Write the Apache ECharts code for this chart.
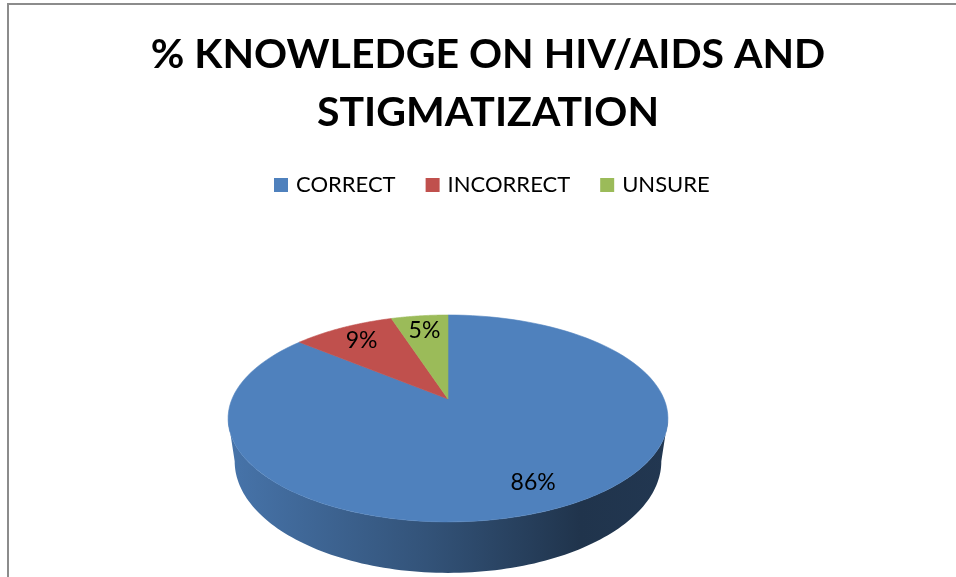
<!DOCTYPE html>
<html>
<head>
<meta charset="utf-8">
<title>% KNOWLEDGE ON HIV/AIDS AND STIGMATIZATION</title>
<script src="https://cdn.jsdelivr.net/npm/echarts@6/dist/echarts.min.js"></script>
<style>
  html, body { margin: 0; padding: 0; background: #fff; overflow: hidden; }
  #frame { position: absolute; left: 7px; top: 3px; width: 970px; height: 590px;
           border-left: 2px solid #8c8c8c; border-top: 2px solid #8c8c8c; }
  #chart { position: absolute; left: 0; top: 0; width: 956px; height: 577px; }
</style>
</head>
<body>
<div id="frame"></div>
<div id="chart"></div>
<script>
// Survey answers and their share (%)
const categories = ['CORRECT', 'INCORRECT', 'UNSURE'];
const percentages = [86, 9, 5];
const palette = ['#4f81bd', '#c0504d', '#9bbb59'];

// Tilted-disc geometry: centre of the top face, radii, perspective and wall depth
const CX = 448, CY = 399, RX = 216, RY = 99.8;
const PERSP = 0.188, DEPTH = 41.4, BASE_SCALE = 0.97;
const STEPS = 120;

const total = percentages.reduce((a, b) => a + b, 0);
const startAngles = [];
percentages.reduce((acc, v, i) => { startAngles[i] = acc; return acc + 2 * Math.PI * v / total; }, 0);

// Angle t runs clockwise from 12 o'clock; f is the fraction of the radius
function project(f, t) {
  const w = 1 + PERSP * f * Math.cos(t);
  return [CX + RX * f * Math.sin(t) / w, CY - RY * f * Math.cos(t) / w];
}
function projectBase(t) {
  const p = project(1, t);
  const w = 1 + PERSP * Math.cos(t);
  return [CX + BASE_SCALE * (p[0] - CX), p[1] + DEPTH / w];
}

// Scale the RGB channels of a colour to shade the wall
function shade(color, k) {
  const c = echarts.color.parse(color);
  return 'rgb(' + Math.round(c[0] * k) + ',' + Math.round(c[1] * k) + ',' + Math.round(c[2] * k) + ')';
}

function renderSlice(i) {
  return function (params, api) {
    const value = api.value(0);
    const color = api.visual('color');
    const t0 = startAngles[i];
    const t1 = t0 + 2 * Math.PI * value / total;
    const children = [];

    // outer wall, only where it faces the viewer
    const ts = Math.acos(-PERSP), te = 2 * Math.PI - ts;
    const a = Math.max(t0, ts), b = Math.min(t1, te);
    if (b > a) {
      const topArc = [], baseArc = [];
      for (let k = 0; k <= STEPS; k++) {
        const t = a + (b - a) * k / STEPS;
        topArc.push(project(1, t));
        baseArc.push(projectBase(t));
      }
      children.push({
        type: 'polygon',
        shape: { points: topArc.concat(baseArc.reverse()) },
        style: {
          fill: {
            type: 'linear', x: 0, y: 0, x2: 1, y2: 0,
            colorStops: [
              { offset: 0, color: shade(color, 0.9) },
              { offset: 0.45, color: shade(color, 0.64) },
              { offset: 0.8, color: shade(color, 0.4) },
              { offset: 1, color: shade(color, 0.43) }
            ]
          }
        }
      });
    }

    // top face
    const face = [[CX, CY]];
    for (let k = 0; k <= STEPS; k++) face.push(project(1, t0 + (t1 - t0) * k / STEPS));
    children.push({
      type: 'polygon',
      shape: { points: face },
      style: { fill: color, stroke: color, lineWidth: 0.6 }
    });

    // percentage label
    const lp = project(0.8, (t0 + t1) / 2);
    children.push({
      type: 'text',
      style: {
        text: value + '%', x: lp[0], y: lp[1], align: 'center', verticalAlign: 'middle',
        fontFamily: 'Lato', fontSize: 23, fill: '#000'
      }
    });
    return { type: 'group', children: children };
  };
}

const chart = echarts.init(document.getElementById('chart'), null, { renderer: 'canvas' });
chart.setOption({
  animation: false,
  title: {
    text: '% KNOWLEDGE ON HIV/AIDS AND\nSTIGMATIZATION',
    left: 488,
    textAlign: 'center',
    top: 26,
    padding: 0,
    textStyle: { fontFamily: 'Lato', fontWeight: 'bold', fontSize: 41, lineHeight: 58, color: '#000' }
  },
  legend: {
    top: 174,
    left: 274,
    padding: 0,
    icon: 'rect',
    itemWidth: 14,
    itemHeight: 14,
    itemGap: 30,
    selectedMode: false,
    textStyle: { fontFamily: 'Lato', fontSize: 22, color: '#000', padding: [0, 0, 0, 3] },
    data: categories
  },
  series: categories.map((name, i) => ({
    type: 'custom',
    name: name,
    coordinateSystem: 'none',
    itemStyle: { color: palette[i] },
    renderItem: renderSlice(i),
    data: [[percentages[i]]]
  }))
});
</script>
</body>
</html>
